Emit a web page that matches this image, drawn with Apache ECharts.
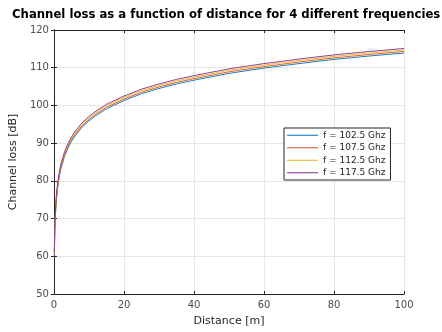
<!DOCTYPE html>
<html>
<head>
<meta charset="utf-8">
<script src="https://cdn.jsdelivr.net/npm/echarts@6/dist/echarts.min.js"></script>
<style>
  html, body { margin: 0; padding: 0; background: #fff; }
  #chart { width: 442px; height: 332px; }
</style>
</head>
<body>
<div id="chart"></div>
<script>
// distances [m] sampled along the curves
const distance = [0.1, 0.2, 0.3, 0.5, 0.7, 1, 1.5, 2, 3, 4, 5, 6, 8, 10, 12, 15, 20, 25, 30, 35, 40, 50, 60, 70, 80, 90, 100];

// channel loss [dB], one list per frequency
const loss1025 = [59.9, 65.3, 68.5, 72.5, 75.1, 77.9, 81.1, 83.3, 86.5, 88.7, 90.5, 91.9, 94.2, 95.9, 97.3, 99.1, 101.3, 103.1, 104.5, 105.7, 106.7, 108.5, 109.9, 111.1, 112.2, 113.1, 113.9];
const loss1075 = [60.3, 65.7, 68.9, 72.9, 75.5, 78.3, 81.5, 83.7, 86.9, 89.1, 90.9, 92.3, 94.6, 96.3, 97.7, 99.5, 101.7, 103.5, 104.9, 106.1, 107.1, 108.9, 110.3, 111.5, 112.6, 113.5, 114.3];
const loss1125 = [60.7, 66.1, 69.3, 73.3, 75.9, 78.7, 81.9, 84.1, 87.3, 89.5, 91.3, 92.7, 95.0, 96.7, 98.1, 99.9, 102.1, 103.9, 105.3, 106.5, 107.5, 109.3, 110.7, 111.9, 113.0, 113.9, 114.7];
const loss1175 = [61.1, 66.5, 69.7, 73.7, 76.3, 79.1, 82.3, 84.5, 87.7, 89.9, 91.7, 93.1, 95.4, 97.1, 98.5, 100.3, 102.5, 104.3, 105.7, 106.9, 107.9, 109.7, 111.1, 112.3, 113.4, 114.3, 115.1];

const seriesNames = ['f = 102.5 Ghz', 'f = 107.5 Ghz', 'f = 112.5 Ghz', 'f = 117.5 Ghz'];
const seriesColors = ['#0072BD', '#D95319', '#EDB120', '#7E2F8E'];
const allLoss = [loss1025, loss1075, loss1125, loss1175];

const font = 'DejaVu Sans';
const axisColor = '#262626';
const labelColor = '#4d4d4d';

const chart = echarts.init(document.getElementById('chart'), null, { renderer: 'canvas' });

const hiddenAxis = (extra) => Object.assign({
  type: 'value',
  axisLine: { show: true, lineStyle: { color: axisColor, width: 1 } },
  axisTick: { show: true, inside: true, length: 3, lineStyle: { color: axisColor } },
  axisLabel: { show: false },
  splitLine: { show: false }
}, extra);

chart.setOption({
  animation: false,
  backgroundColor: '#fff',
  title: {
    text: 'Channel loss as a function of distance for 4 different frequencies',
    left: 12,
    top: 9,
    padding: 0,
    textStyle: { fontFamily: font, fontSize: 11.7, fontWeight: 'bold', color: '#000' }
  },
  grid: { left: 51, right: 38, top: 30, bottom: 35, containLabel: false },
  legend: {
    orient: 'vertical',
    left: 284,
    top: 128,
    icon: 'rect',
    itemWidth: 31,
    itemHeight: 1,
    itemGap: 0,
    itemTextGap: 2,
    padding: [1, 5, 1, 3],
    borderColor: '#262626',
    borderWidth: 1,
    backgroundColor: '#fff',
    textStyle: { fontFamily: font, fontSize: 9, color: '#262626', lineHeight: 12.5 },
    data: seriesNames
  },
  xAxis: [
    {
      type: 'value', min: 0, max: 100, interval: 20,
      name: 'Distance [m]', nameLocation: 'middle', nameGap: 22,
      nameTextStyle: { fontFamily: font, fontSize: 11, color: axisColor },
      axisLine: { show: true, onZero: false, lineStyle: { color: axisColor, width: 1 } },
      axisTick: { show: true, inside: true, length: 3, lineStyle: { color: axisColor } },
      axisLabel: { fontFamily: font, fontSize: 10, color: labelColor, margin: 6 },
      splitLine: { show: true, lineStyle: { color: '#e6e6e6', width: 1 } }
    },
    hiddenAxis({ position: 'top', min: 0, max: 100, interval: 20 })
  ],
  yAxis: [
    {
      type: 'value', min: 50, max: 120, interval: 10,
      name: 'Channel loss [dB]', nameLocation: 'middle', nameGap: 26,
      nameTextStyle: { fontFamily: font, fontSize: 11, color: axisColor },
      axisLine: { show: true, onZero: false, lineStyle: { color: axisColor, width: 1 } },
      axisTick: { show: true, inside: true, length: 3, lineStyle: { color: axisColor } },
      axisLabel: { fontFamily: font, fontSize: 10, color: labelColor, margin: 5 },
      splitLine: { show: true, lineStyle: { color: '#e6e6e6', width: 1 } }
    },
    hiddenAxis({ position: 'right', min: 50, max: 120, interval: 10 })
  ],
  series: allLoss.map((vals, i) => ({
    name: seriesNames[i],
    type: 'line',
    showSymbol: false,
    symbol: 'none',
    smooth: false,
    color: seriesColors[i],
    lineStyle: { width: 0.9, color: seriesColors[i] },
    data: distance.map((d, j) => [d, vals[j]])
  }))
});
</script>
</body>
</html>
